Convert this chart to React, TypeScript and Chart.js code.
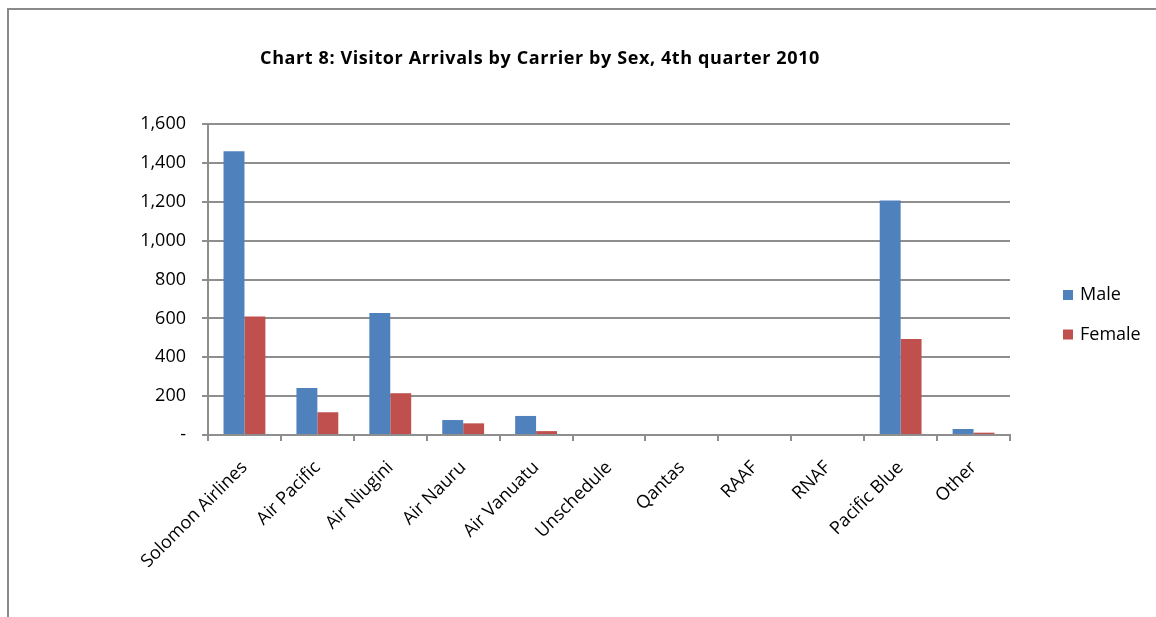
import React, { useEffect, useRef } from "react";
import { Chart, registerables } from "chart.js";

Chart.register(...registerables);

const TITLE = "Chart 8: Visitor Arrivals by Carrier by Sex, 4th quarter 2010";
const categories = [
  "Solomon Airlines",
  "Air Pacific",
  "Air Niugini",
  "Air Nauru",
  "Air Vanuatu",
  "Unschedule",
  "Qantas",
  "RAAF",
  "RNAF",
  "Pacific Blue",
  "Other",
];
const maleValues = [1460, 242, 628, 77, 98, 0, 0, 0, 0, 1207, 31];
const femaleValues = [610, 117, 215, 60, 20, 0, 0, 0, 0, 494, 12];
const seriesNames = ["Male", "Female"];
const seriesColors = ["#4F81BD", "#C0504D"];
const yTicksMax = 1600;
const yTicksStep = 200;

const GRID = "#8e8e8e";
const AXIS_FONT = "'Open Sans', 'DejaVu Sans', sans-serif";

const titlePlugin = {
  id: "customTitle",
  afterDraw(chart: any) {
    const ctx = chart.ctx;
    ctx.save();
    ctx.font = "bold 18px 'Open Sans', sans-serif";
    try {
      (ctx as any).letterSpacing = "0.6px";
    } catch (e) {}
    ctx.fillStyle = "#000";
    ctx.textAlign = "center";
    ctx.textBaseline = "middle";
    ctx.fillText(TITLE, 531, 49);
    ctx.restore();
  },
};

const legendPlugin = {
  id: "customLegend",
  afterDraw(chart: any) {
    const ctx = chart.ctx;
    ctx.save();
    ctx.font = "18px " + AXIS_FONT;
    ctx.textAlign = "left";
    ctx.textBaseline = "middle";
    const x0 = chart.chartArea.right + 53;
    const y0 = 285;
    chart.data.datasets.forEach((ds: any, i: number) => {
      const cy = y0 + i * 39.5;
      ctx.fillStyle = ds.backgroundColor;
      ctx.fillRect(x0, cy - 5, 10, 10);
      ctx.fillStyle = "#000";
      ctx.fillText(ds.label, x0 + 17, cy);
    });
    ctx.restore();
  },
};

export default function App() {
  const ref = useRef<HTMLCanvasElement | null>(null);

  useEffect(() => {
    if (!ref.current) return;
    const chart = new Chart(ref.current, {
      type: "bar",
      data: {
        labels: categories,
        datasets: [
          {
            label: seriesNames[0],
            data: maleValues,
            backgroundColor: seriesColors[0],
            categoryPercentage: 0.574,
            barPercentage: 1,
          },
          {
            label: seriesNames[1],
            data: femaleValues,
            backgroundColor: seriesColors[1],
            categoryPercentage: 0.574,
            barPercentage: 1,
          },
        ],
      },
      options: {
        responsive: false,
        animation: false,
        layout: { padding: { left: 0, top: 114, right: 146, bottom: 0 } },
        plugins: {
          legend: { display: false },
          title: { display: false },
          tooltip: { enabled: false },
        },
        scales: {
          x: {
            offset: true,
            grid: {
              offset: true,
              drawOnChartArea: false,
              drawTicks: true,
              tickLength: 6,
              color: GRID,
              lineWidth: 2,
            },
            border: { color: GRID, width: 2 },
            ticks: {
              autoSkip: false,
              maxRotation: 45,
              minRotation: 45,
              padding: 16,
              color: "#000",
              font: { family: AXIS_FONT, size: 18 },
            },
            afterFit(scale: any) {
              scale.height = 182;
            },
          },
          y: {
            min: 0,
            max: yTicksMax,
            ticks: {
              stepSize: yTicksStep,
              padding: 16,
              color: "#000",
              font: { family: AXIS_FONT, size: 18 },
              callback: (v: any) =>
                Number(v) === 0 ? "-" : Number(v).toLocaleString("en-US"),
            },
            grid: {
              drawTicks: true,
              tickLength: 6,
              color: GRID,
              lineWidth: 2,
            },
            border: { color: GRID, width: 2 },
            afterFit(scale: any) {
              scale.width = 199;
            },
          },
        },
      },
      plugins: [titlePlugin, legendPlugin],
    });
    return () => chart.destroy();
  }, []);

  return (
    <div
      style={{
        position: "fixed",
        left: 7,
        top: 8,
        width: 1149,
        height: 609,
        borderLeft: "2px solid #8a8a8a",
        borderTop: "2px solid #8a8a8a",
        boxSizing: "border-box",
        background: "#fff",
      }}
    >
      <canvas ref={ref} width={1147} height={607} style={{ display: "block" }} />
    </div>
  );
}
